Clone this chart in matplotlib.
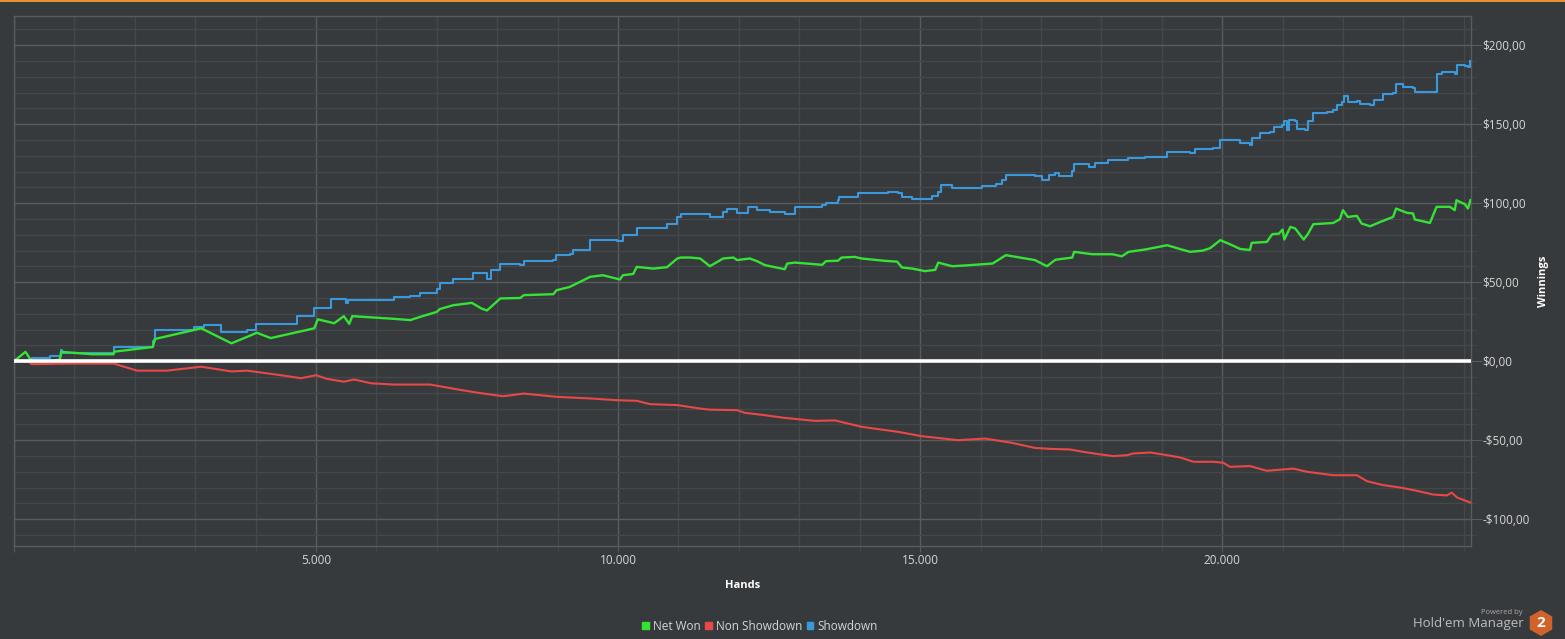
import matplotlib
matplotlib.use("Agg")
import matplotlib.pyplot as plt
from matplotlib.patches import Rectangle, RegularPolygon
from matplotlib.ticker import MultipleLocator, FuncFormatter

# Showdown winnings (blue)
sd_hands = [0, 300, 600, 780, 800, 1650, 1660, 2300, 2330, 2980, 3150, 3430, 3860, 4000, 4690,
            4970, 5250, 5490, 5530, 6290, 6560, 6720, 7000, 7050, 7270, 7600, 7830, 7900, 8050,
            8380, 8440, 8930, 8980, 9200, 9250, 9540, 9750, 9980, 10080, 10310, 10580, 10810,
            10980, 11040, 11360, 11520, 11740, 11800, 11900, 11970, 12150, 12300, 12520, 12760,
            12930, 13380, 13440, 13640, 13660, 13920, 13970, 14470, 14630, 14700, 14870, 15200,
            15300, 15350, 15530, 15750, 16030, 16200, 16250, 16360, 16420, 16900, 17020, 17130,
            17240, 17300, 17520, 17550, 17730, 17790, 17900, 18110, 18340, 18450, 18730, 18840,
            19090, 19470, 19550, 19850, 19970, 20260, 20300, 20460, 20490, 20600, 20630, 20800,
            20860, 20990, 21020, 21080, 21110, 21210, 21240, 21370, 21420, 21510, 21730, 21840,
            21900, 21990, 22020, 22080, 22230, 22290, 22450, 22510, 22610, 22670, 22830, 22880,
            22990, 23160, 23200, 23490, 23550, 23640, 23860, 23890, 24020, 24070, 24110]
sd_won = [0, 2, 3, 7, 5.3, 5.3, 9, 13, 19.6, 21.7, 23, 18.6, 19.6, 23.4, 28.5,
          33.5, 39.4, 36.7, 39, 40.7, 41, 43.2, 45.4, 49.4, 52.3, 55.5, 52.3, 57.6, 61.8,
          61, 63.6, 63.9, 67, 67.8, 70.2, 76.6, 77, 75.9, 79.7, 84, 84, 87,
          91.3, 93.4, 93.4, 91, 94.5, 96.6, 96.6, 94, 97.7, 95.6, 94.5, 93.4,
          97.7, 98.7, 100, 101.9, 104, 104, 106.5, 107.2, 106.5, 104, 102.9, 104.6,
          107.2, 111.4, 109.9, 109.9, 110.9, 110.9, 112.4, 114.6, 118.1, 117, 115, 117.7,
          119.2, 117, 120.5, 124.7, 124.7, 122.6, 125.5, 127.2, 127.2, 128.3, 129.3, 129.3,
          132.5, 131.8, 134, 135.2, 139.9, 139.9, 137.8, 136.7, 141, 141.5, 144.5, 145,
          148.3, 149.4, 152.1, 146.2, 152.5, 152.1, 146.8, 146.6, 152.3, 157.2, 157.6, 158.9,
          162, 164.1, 167.7, 164, 165, 162.7, 162.1, 165.6, 165.6, 169.4, 169.8, 175.3,
          173.6, 173.2, 170.5, 170.5, 182.1, 183, 181.7, 187.3, 186.9, 186.3, 190]

# Net won (green)
net_hands = [0, 190, 290, 600, 760, 780, 1300, 1650, 1660, 2300, 2330, 3100, 3600, 3860, 4020,
             4250, 4970, 5030, 5300, 5460, 5550, 5600, 6290, 6560, 6720, 7000, 7050, 7270, 7580,
             7740, 7830, 8050, 8380, 8440, 8930, 8980, 9200, 9540, 9750, 10030, 10080, 10250,
             10310, 10580, 10810, 10980, 11040, 11190, 11360, 11520, 11740, 11910, 11970, 12180,
             12300, 12430, 12760, 12800, 12930, 13380, 13440, 13640, 13700, 13920, 14030, 14420,
             14620, 14700, 14870, 15080, 15250, 15300, 15530, 15750, 16200, 16420, 16740, 16900,
             17100, 17240, 17520, 17550, 17850, 18180, 18340, 18450, 18730, 19090, 19300, 19470,
             19680, 19800, 19970, 20130, 20300, 20460, 20490, 20740, 20830, 20940, 21000, 21030,
             21130, 21210, 21350, 21420, 21510, 21840, 21950, 22000, 22080, 22230, 22310, 22450,
             22610, 22830, 22880, 23060, 23160, 23190, 23440, 23550, 23770, 23850, 23880, 24020,
             24070, 24110]
net_won = [0, 5.9, 0, 0, 1, 5.9, 4.4, 4.4, 6, 9, 14, 20.8, 11.3, 15.4, 18,
           14.6, 20.8, 26.5, 24, 28.5, 23.6, 28.5, 26.8, 26, 28, 31.2, 33, 35.4, 36.9,
           33.3, 32.1, 39.7, 40, 41.8, 42.4, 44.9, 47, 53.4, 54.4, 51.7, 54.4, 55.2,
           59.7, 58.6, 59.5, 65, 65.6, 65.6, 65, 60.1, 65, 65.6, 64, 65,
           63.3, 60.8, 58.2, 61.8, 62.4, 61, 63.3, 63.6, 65.6, 66, 65, 63.5,
           63, 59.3, 58.6, 57, 57.8, 62.4, 60.1, 60.6, 61.8, 67.1, 65, 64,
           60.1, 64.2, 65.6, 69.2, 67.7, 67.7, 66.4, 69.2, 70.7, 73.4, 71, 69.2,
           70, 71.5, 76.6, 74, 71, 70.4, 74.9, 75.5, 80.4, 80.7, 83.3, 77,
           85, 84, 77, 80.5, 86.7, 87.5, 89.9, 95.6, 91.3, 92, 87.1, 85.4,
           88, 91.3, 96.6, 93.9, 93.5, 89.7, 87.5, 97.7, 97.7, 95.6, 101.9, 99.3,
           96.6, 101.9]

# Non showdown winnings (red)
nsd_hands = [0, 250, 290, 1000, 1650, 2040, 2530, 3100, 3600, 3860, 4420, 4750, 5000, 5180,
             5460, 5630, 5910, 6290, 6890, 7420, 7770, 8100, 8440, 8990, 9540, 9980, 10310,
             10530, 10980, 11360, 11520, 11970, 12100, 12430, 12760, 13260, 13590, 14040, 14630,
             15030, 15630, 16080, 16520, 16900, 17150, 17480, 17700, 17980, 18200, 18430, 18530,
             18810, 19090, 19310, 19530, 19860, 20020, 20130, 20460, 20740, 21180, 21400, 21840,
             22230, 22400, 22670, 22950, 23230, 23490, 23720, 23800, 23890, 24110]
nsd_won = [0, -0.5, -1.9, -1.5, -1.5, -6, -6, -3.5, -6.5, -6, -8.9, -10.8, -8.9, -11.2,
           -13, -11.6, -14, -14.8, -14.8, -18.4, -20.5, -22.2, -20.5, -22.6, -23.6, -24.7, -25.1,
           -27.2, -27.8, -30, -30.7, -31, -32.7, -34.2, -35.9, -37.8, -37.5, -41.6, -44.7,
           -47.5, -50, -49, -51.7, -54.9, -55.5, -55.9, -57.4, -59, -60.1, -59.5, -58.4,
           -57.8, -59.5, -61, -63.7, -63.7, -64.3, -66.9, -66.4, -69.4, -68, -70, -72.2,
           -72.2, -76, -78.5, -80, -82.1, -84.4, -85, -83.2, -86.3, -89.5]

series_names = ["Net Won", "Non Showdown", "Showdown"]
series_colors = ["#35e335", "#e84848", "#3a99dc"]

BG = "#373a3d"
TXT = "#d6d6d6"
GRID_MAJ = "#595c5f"
GRID_MIN = "#45484b"

plt.rcParams["font.family"] = ["Open Sans", "DejaVu Sans"]

fig = plt.figure(figsize=(15.65, 6.39), dpi=100, facecolor=BG)
ax = fig.add_axes([14 / 1565, 1 - 546 / 639, (1471 - 14) / 1565, (546 - 16) / 639])
ax.set_facecolor(BG)

# showdown money moves in steps, the other two look more continuous
ax.plot(nsd_hands, nsd_won, color=series_colors[1], lw=1.5, zorder=3)
ax.plot(net_hands, net_won, color=series_colors[0], lw=1.7, zorder=4)
ax.plot(sd_hands, sd_won, color=series_colors[2], lw=1.5, zorder=3, drawstyle="steps-post")
ax.axhline(0, color="white", lw=2.6, zorder=5)

ax.set_xlim(0, 24120)
ax.set_ylim(-117, 218.5)

ax.xaxis.set_major_locator(MultipleLocator(5000))
ax.xaxis.set_minor_locator(MultipleLocator(1000))
ax.yaxis.set_major_locator(MultipleLocator(50))
ax.yaxis.set_minor_locator(MultipleLocator(10))

ax.xaxis.set_major_formatter(FuncFormatter(lambda v, p: f"{int(v):,}".replace(",", ".") if v > 0 else ""))


def money(v, p):
    s = f"${abs(v):,.2f}".replace(".", ",")
    return "-" + s if v < 0 else s


ax.yaxis.set_major_formatter(FuncFormatter(money))
ax.yaxis.tick_right()
ax.yaxis.set_label_position("right")

ax.grid(which="major", color=GRID_MAJ, lw=1.0, zorder=0)
ax.grid(which="minor", color=GRID_MIN, lw=1.0, zorder=0)
ax.set_axisbelow(True)

for sp in ax.spines.values():
    sp.set_color(GRID_MAJ)
    sp.set_linewidth(1.0)

ax.tick_params(axis="x", which="major", length=4, color=GRID_MAJ, labelcolor=TXT, labelsize=8.5, pad=2)
ax.tick_params(axis="x", which="minor", length=4, color=GRID_MIN)
ax.tick_params(axis="y", which="major", length=8, color=GRID_MAJ, labelcolor=TXT, labelsize=8.5, pad=0)
ax.tick_params(axis="y", which="minor", length=4, color=GRID_MIN)

ax.set_xlabel("Hands", color="white", fontsize=8, fontweight="bold", labelpad=9)
ax.set_ylabel("Winnings", color="white", fontsize=8, fontweight="bold", labelpad=6)

# legend
handles = [Rectangle((0, 0), 1, 1, color=c) for c in series_colors]
fig.legend(handles, series_names, loc="center", bbox_to_anchor=(760 / 1565, 1 - 626 / 639),
           ncol=3, frameon=False, fontsize=8.5, labelcolor=TXT, handlelength=0.55,
           handleheight=0.55, handletextpad=0.35, columnspacing=0.4)

# orange top strip
fig.add_artist(Rectangle((0, 1 - 2 / 639), 1, 2 / 639, transform=fig.transFigure,
                         color="#e8942c", lw=0))

# branding
fig.text(1523 / 1565, 1 - 613 / 639, "Powered by", color="#a8a8a8", fontsize=5.5,
         ha="right", va="center")
fig.text(1524 / 1565, 1 - 624 / 639, "Hold'em Manager", color="#bdbdbd", fontsize=9.5,
         ha="right", va="center")
fig.add_artist(RegularPolygon((1541, 639 - 623), numVertices=6, radius=13,
                              orientation=0, transform=None, color="#d0622a", lw=0))
fig.text(1541 / 1565, 1 - 623 / 639, "2", color="white", fontsize=11, fontweight="bold",
         ha="center", va="center")

fig.savefig("out.png", dpi=100, facecolor=BG)
